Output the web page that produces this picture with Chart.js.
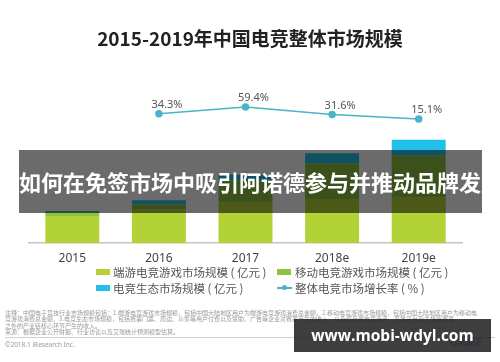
<!DOCTYPE html>
<html>
<head>
<meta charset="utf-8">
<script src="https://cdn.jsdelivr.net/npm/chart.js@4"></script>
<style>
  html, body { margin: 0; padding: 0; background: #fff; }
  body { width: 500px; height: 362px; position: relative; overflow: hidden;
         font-family: "Noto Sans CJK SC", "Noto Sans", sans-serif; }
  #wrap { position: absolute; left: 0; top: 0; width: 500px; height: 362px; }
  .abs { position: absolute; white-space: nowrap; }
  #title { left: 0; width: 500px; top: 26px; text-align: center; font-size: 19px;
           font-weight: bold; color: #222; line-height: 24px; }
  .lg { font-size: 11.5px; color: #555; line-height: 14px; }
  .sw { position: absolute; width: 14px; height: 6px; }
  #banner { left: 19px; top: 150px; width: 463px; height: 63px; background: rgba(0,0,0,0.58);
            color: #fff; font-weight: bold; font-size: 22px; line-height: 63px; text-align: center; }
  #note { left: 5px; top: 310px; font-size: 6px; line-height: 6.4px; color: #999; }
  #rule { left: 5px; top: 337px; width: 490px; height: 1px; background: #d0d0d0; }
  #copy { left: 5px; top: 340px; font-size: 6.5px; color: #999; font-family: "Noto Sans", sans-serif; }
  #mark { left: 294px; top: 319px; width: 197px; height: 33px; background: rgba(35,35,35,0.88);
          color: #fff; font-weight: bold; font-size: 15.5px; line-height: 33px; text-align: center;
          font-family: "Open Sans", "Noto Sans", sans-serif; }
  #logo { left: 450px; top: 334px; font-size: 11px; font-weight: bold; color: #7fb0dc;
          font-family: "Noto Sans", sans-serif; }
</style>
</head>
<body>
<div id="wrap"><canvas id="chart" width="500" height="362"></canvas></div>
<div class="abs" id="title">2015-2019年中国电竞整体市场规模</div>

<div class="sw" style="left:96px;top:269px;background:#b2d235"></div>
<div class="abs lg" style="left:113px;top:265px">端游电竞游戏市场规模 ( 亿元 )</div>
<div class="sw" style="left:277px;top:269px;background:#8dc243"></div>
<div class="abs lg" style="left:295px;top:265px">移动电竞游戏市场规模 ( 亿元 )</div>
<div class="sw" style="left:96px;top:285px;background:#22c0e8"></div>
<div class="abs lg" style="left:113px;top:281px">电竞生态市场规模 ( 亿元 )</div>
<div class="abs" style="left:277px;top:287px;width:15px;height:1.5px;background:#4bb3c8"></div>
<div class="abs" style="left:282px;top:285px;width:5px;height:5px;border-radius:50%;background:#4bb3c8"></div>
<div class="abs lg" style="left:295px;top:281px">整体电竞市场增长率 ( % )</div>

<div class="abs" id="banner">如何在免签市场中吸引阿诺德参与并推动品牌发展</div>

<div class="abs" id="note">注释：中国电子竞技行业市场规模包括：1.端游电竞游戏市场规模，包括中国大陆地区用户为端游电竞游戏消费总金额，2.移动电竞游戏市场规模，包括中国大陆地区用户为移动电<br>竞游戏消费总金额，3.电竞生态市场规模，包括赛事门票、周边、众筹等用户付费以及赞助、广告等企业对赛事产生的收入，以及俱乐部电竞选手、直播平台及主播等赛事<br>之外的产业链核心环节产生的收入。<br>来源：根据企业公开财报、行业访谈以及艾瑞统计预测模型估算。</div>
<div class="abs" id="rule"></div>
<div class="abs" id="copy">©2018.1 iResearch Inc.</div>
<div class="abs" id="logo">GAME</div>
<div class="abs" id="mark">www.mobi-wdyl.com</div>

<script>
const years = ["2015", "2016", "2017", "2018e", "2019e"];
const pcGame = [257, 318, 385, 420, 430];      // 端游电竞游戏市场规模
const mobileGame = [38, 52, 210, 340, 402];    // 移动电竞游戏市场规模
const ecosystem = [9, 38, 55, 95, 152];        // 电竞生态市场规模
const growth = [null, 34.3, 59.4, 31.6, 15.1]; // 整体电竞市场增长率 %

const pointLabels = {
  id: "pointLabels",
  afterDatasetsDraw(chart) {
    const ctx = chart.ctx;
    const meta = chart.getDatasetMeta(3);
    ctx.save();
    ctx.font = "11px 'Noto Sans', sans-serif";
    ctx.fillStyle = "#555";
    ctx.textAlign = "center";
    ctx.textBaseline = "middle";
    meta.data.forEach((pt, i) => {
      if (growth[i] == null) return;
      ctx.fillText(growth[i].toFixed(1) + "%", pt.x + 8, pt.y - 9);
    });
    ctx.restore();
  }
};

function createChart() {
  const ctx = document.getElementById("chart").getContext("2d");
  new Chart(ctx, {
    type: "bar",
    data: {
      labels: years,
      datasets: [
        { label: "端游电竞游戏市场规模", data: pcGame, backgroundColor: "#b2d235", order: 1 },
        { label: "移动电竞游戏市场规模", data: mobileGame, backgroundColor: "#8dc243", order: 1 },
        { label: "电竞生态市场规模", data: ecosystem, backgroundColor: "#22c0e8", order: 1 },
        {
          type: "line", label: "整体电竞市场增长率", data: growth, yAxisID: "y1", order: 0,
          borderColor: "#4bb3c8", backgroundColor: "#4bb3c8", borderWidth: 1.5,
          pointRadius: 3, pointHoverRadius: 3, spanGaps: false
        }
      ]
    },
    options: {
      responsive: false,
      animation: false,
      devicePixelRatio: 1,
      layout: { padding: { top: 96, left: 29, right: 38, bottom: 89 } },
      datasets: { bar: { categoryPercentage: 1, barPercentage: 0.623 } },
      scales: {
        x: {
          stacked: true,
          grid: { display: false },
          border: { color: "#c4c4c4", width: 1.5 },
          ticks: { color: "#444", font: { size: 12, family: "'Noto Sans', sans-serif" }, padding: 0 },
          afterFit: s => { s.height = 30; }
        },
        y: { stacked: true, display: false, min: 0, max: 1400 },
        y1: { display: false, min: -442, max: 100 }
      },
      plugins: { legend: { display: false }, tooltip: { enabled: false } }
    },
    plugins: [pointLabels]
  });
}

createChart();
</script>
</body>
</html>
